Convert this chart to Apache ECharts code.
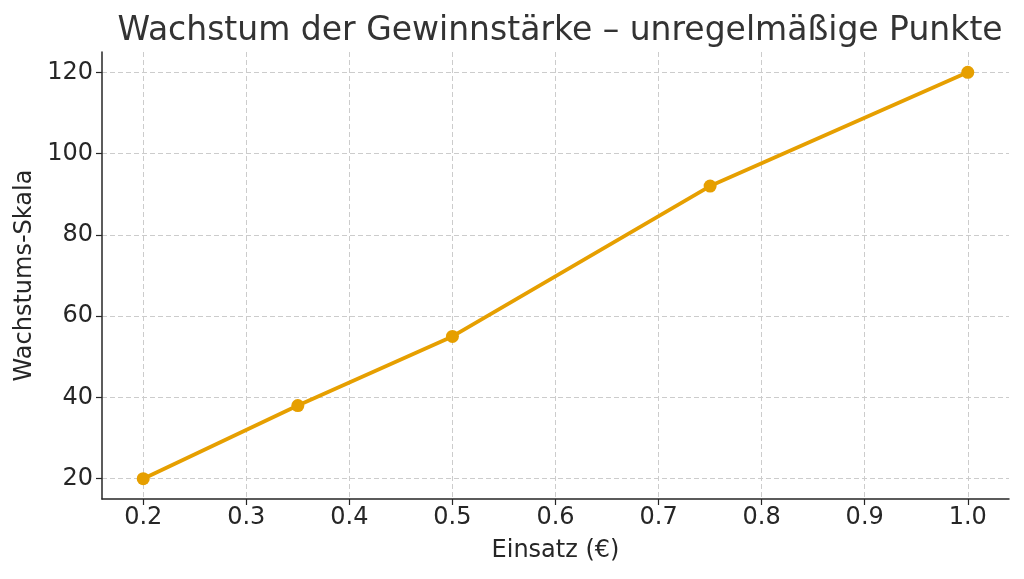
<!DOCTYPE html>
<html><head><meta charset="utf-8">
<script src="https://cdn.jsdelivr.net/npm/echarts@6/dist/echarts.min.js"></script>
<style>html,body{margin:0;padding:0;background:#fff}#c{width:1024px;height:579px}</style>
</head><body><div id="c"></div>
<script>
const einsatz = [0.2, 0.35, 0.5, 0.75, 1.0];
const wachstum = [20, 38, 55, 92, 120];
const xTicks = [0.2, 0.3, 0.4, 0.5, 0.6, 0.7, 0.8, 0.9, 1.0];
const yTicks = [20, 40, 60, 80, 100, 120];

const font = '"DejaVu Sans", sans-serif';
const chart = echarts.init(document.getElementById('c'), null, {renderer: 'canvas'});
chart.setOption({
  animation: false,
  backgroundColor: '#fff',
  title: {
    text: 'Wachstum der Gewinnstärke – unregelmäßige Punkte',
    left: 555, top: 10, textAlign: 'center',
    textStyle: {fontFamily: font, fontSize: 33, fontWeight: 'normal', color: '#333'}
  },
  grid: {left: 102, right: 15, top: 52, bottom: 80, containLabel: false},
  xAxis: {
    type: 'value', min: 0.16, max: 1.04,
    name: 'Einsatz (€)', nameLocation: 'middle', nameGap: 40,
    nameTextStyle: {fontFamily: font, fontSize: 24, color: '#262626'},
    axisLine: {show: true, onZero: false, lineStyle: {color: '#262626', width: 1.5}},
    axisTick: {show: true, inside: false, length: 6, customValues: xTicks, lineStyle: {color: '#262626', width: 1.2}},
    axisLabel: {customValues: xTicks, fontFamily: font, fontSize: 24, color: '#262626', margin: 7,
      formatter: v => v.toFixed(1)},
    splitLine: {show: true, customValues: xTicks, lineStyle: {color: '#cccccc', type: [5, 3], width: 1}}
  },
  yAxis: {
    type: 'value', min: 15, max: 125,
    name: 'Wachstums-Skala', nameLocation: 'middle', nameGap: 60, nameRotate: 90,
    nameTextStyle: {fontFamily: font, fontSize: 24, color: '#262626'},
    axisLine: {show: true, onZero: false, lineStyle: {color: '#262626', width: 1.5}},
    axisTick: {show: true, inside: false, length: 6, customValues: yTicks, lineStyle: {color: '#262626', width: 1.2}},
    axisLabel: {customValues: yTicks, fontFamily: font, fontSize: 24, color: '#262626', margin: 9,
      formatter: v => String(Math.round(v))},
    splitLine: {show: true, customValues: yTicks, lineStyle: {color: '#cccccc', type: [5, 3], width: 1}}
  },
  series: [{
    type: 'line',
    data: einsatz.map((x, i) => [x, wachstum[i]]),
    symbol: 'circle', symbolSize: 13,
    lineStyle: {color: '#E69F00', width: 3.8},
    itemStyle: {color: '#E69F00'},
    z: 5
  }]
});
</script></body></html>
